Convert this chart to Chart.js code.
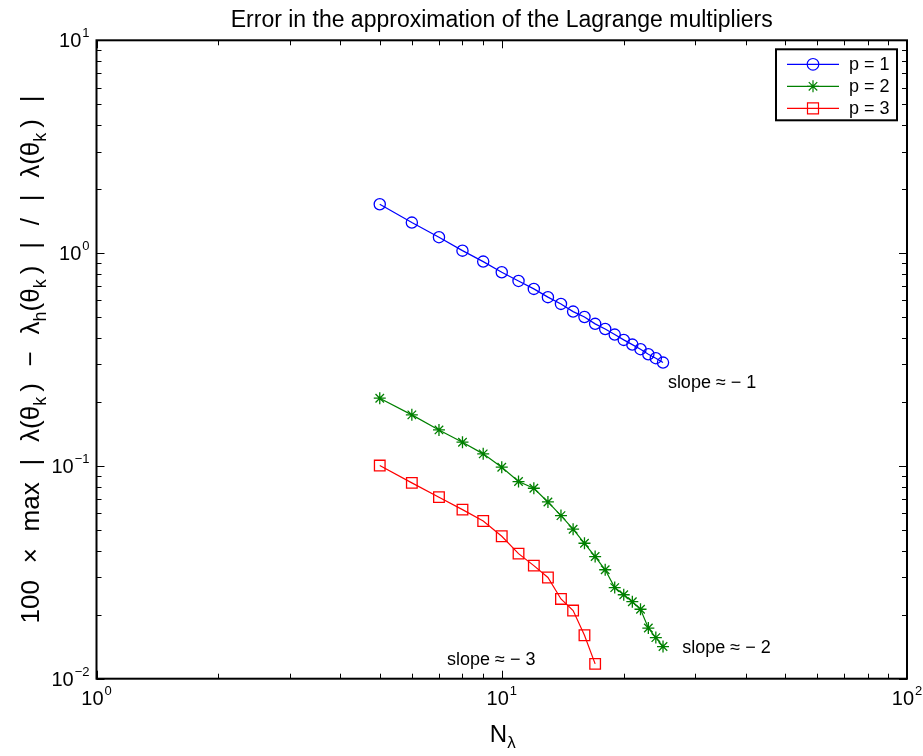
<!DOCTYPE html>
<html>
<head>
<meta charset="utf-8">
<title>Error in the approximation of the Lagrange multipliers</title>
<script src="https://cdn.jsdelivr.net/npm/chart.js@4.4.0/dist/chart.umd.min.js"></script>
<style>
  html, body { margin: 0; padding: 0; background: #fff; }
  #wrap { width: 923px; height: 756px; }
</style>
</head>
<body>
<div id="wrap"><canvas id="errChart" width="923" height="756"></canvas></div>
<script>
// ---- data ----
const nP1   = [5, 6, 7, 8, 9, 10, 11, 12, 13, 14, 15, 16, 17, 18, 19, 20, 21, 22, 23, 24, 25];
const errP1 = [1.697, 1.391, 1.188, 1.027, 0.912, 0.813, 0.740, 0.679, 0.621, 0.577, 0.531,
               0.501, 0.465, 0.440, 0.414, 0.391, 0.3715, 0.3535, 0.3348, 0.3207, 0.3058];

const nP2   = [5, 6, 7, 8, 9, 10, 11, 12, 13, 14, 15, 16, 17, 18, 19, 20, 21, 22, 23, 24, 25];
const errP2 = [0.208, 0.1737, 0.1476, 0.1292, 0.1139, 0.0986, 0.0844, 0.0785, 0.0677, 0.0584, 0.0504,
               0.0433, 0.0375, 0.0325, 0.0268, 0.0248, 0.0230, 0.0212, 0.0173, 0.0156, 0.01416];

const nP3   = [5, 6, 7, 8, 9, 10, 11, 12, 13, 14, 15, 16, 17];
const errP3 = [0.1004, 0.0832, 0.0713, 0.0623, 0.0551, 0.0467, 0.0387, 0.0340, 0.0299, 0.0237,
               0.0209, 0.0160, 0.01174];

const xTicks = [1, 10, 100];
const xTickExp = ['0', '1', '2'];
const yTicks = [0.01, 0.1, 1, 10];
const yTickExp = ['\u22122', '\u22121', '0', '1'];

const legendLabels = ['p = 1', 'p = 2', 'p = 3'];

// slope notes, anchored at data coordinates (left edge, middle)
const slopeNotes = ['slope \u2248 \u2212 1', 'slope \u2248 \u2212 2', 'slope \u2248 \u2212 3'];
const slopeAtN   = [25.7, 27.9, 7.33];
const slopeAtErr = [0.245, 0.01395, 0.01226];

const titleText = 'Error in the approximation of the Lagrange multipliers';

// ---- styles ----
const FONT  = '"Liberation Sans", Arial, Helvetica, sans-serif';
const BLUE  = '#0000ff';
const GREEN = '#008000';
const RED   = '#ff0000';

const pts = (xs, ys) => xs.map((x, i) => ({ x, y: ys[i] }));

// marker for legend rows, same shapes as the plotted points
function marker(ctx, style, x, y, color) {
  ctx.save();
  ctx.strokeStyle = color;
  ctx.lineWidth = 1.2;
  ctx.beginPath();
  if (style === 'circle') {
    ctx.arc(x, y, 5.8, 0, Math.PI * 2);
  } else if (style === 'rect') {
    ctx.rect(x - 5.5, y - 5.5, 11, 11);
  } else {
    for (let k = 0; k < 4; k++) {
      const a = k * Math.PI / 4;
      ctx.moveTo(x - 6 * Math.cos(a), y - 6 * Math.sin(a));
      ctx.lineTo(x + 6 * Math.cos(a), y + 6 * Math.sin(a));
    }
  }
  ctx.stroke();
  ctx.restore();
}

// "10" with a raised exponent
function powLabel(ctx, exp, x, baseY, align) {
  ctx.font = `20px ${FONT}`;
  const wb = ctx.measureText('10').width;
  ctx.font = `13px ${FONT}`;
  const we = ctx.measureText(exp).width;
  const total = wb + 1 + we;
  const left = align === 'center' ? x - total / 2 : x - total;
  ctx.textAlign = 'left';
  ctx.textBaseline = 'alphabetic';
  ctx.font = `20px ${FONT}`;
  ctx.fillText('10', left, baseY);
  ctx.font = `13px ${FONT}`;
  ctx.fillText(exp, left + wb + 1, baseY - 10);
}

// text runs: strings, subscripts and gaps; gaps share the space left over to fill `span`
function runLayout(ctx, parts, size, subSize, span) {
  let w = 0, gaps = 0;
  parts.forEach(p => {
    if (p.gap) { gaps += p.gap; return; }
    ctx.font = `${p.sub ? subSize : size}px ${FONT}`;
    w += ctx.measureText(p.t).width;
  });
  const unit = span ? (span - w) / gaps : size * 0.28;
  return { unit, total: span || w + gaps * unit };
}
function runText(ctx, parts, size, subSize, start, baseY, unit) {
  let x = start;
  parts.forEach(p => {
    if (p.gap) { x += p.gap * unit; return; }
    ctx.font = `${p.sub ? subSize : size}px ${FONT}`;
    ctx.fillText(p.t, x, baseY + (p.sub ? size * 0.25 : 0));
    x += ctx.measureText(p.t).width;
  });
}

const G = { gap: 1 }, g = { gap: 0.3 };
const yLabelParts = [
  { t: '100' }, G, { t: '\u00d7' }, G, { t: 'max' }, G, { t: '|' }, G,
  { t: '\u03bb(\u03b8' }, { t: 'k', sub: true }, g, { t: ')' }, G, { t: '\u2212' }, G,
  { t: '\u03bb' }, { t: 'h', sub: true }, { t: '(\u03b8' }, { t: 'k', sub: true }, g, { t: ')' }, G,
  { t: '|' }, G, { t: '/' }, G, { t: '|' }, G,
  { t: '\u03bb(\u03b8' }, { t: 'k', sub: true }, g, { t: ')' }, G, { t: '|' }
];
const xLabelParts = [{ t: 'N' }, { t: '\u03bb', sub: true }];

const frame = {
  id: 'frame',
  afterDatasetsDraw(chart) {
    const { ctx, chartArea: a, scales: { x, y } } = chart;
    ctx.save();

    // inward ticks on all four sides
    ctx.strokeStyle = '#000';
    ctx.lineWidth = 1;
    ctx.beginPath();
    const xMinor = [], yMinor = [];
    xTicks.slice(0, -1).forEach(b => { for (let m = 2; m <= 9; m++) xMinor.push(m * b); });
    yTicks.slice(0, -1).forEach(b => { for (let m = 2; m <= 9; m++) yMinor.push(m * b); });
    const xt = xTicks.map(v => [v, 8]).concat(xMinor.map(v => [v, 5]));
    const yt = yTicks.map(v => [v, 8]).concat(yMinor.map(v => [v, 5]));
    xt.forEach(([v, len]) => {
      const px = Math.round(x.getPixelForValue(v)) + 0.5;
      ctx.moveTo(px, a.bottom); ctx.lineTo(px, a.bottom - len);
      ctx.moveTo(px, a.top);    ctx.lineTo(px, a.top + len);
    });
    yt.forEach(([v, len]) => {
      const py = Math.round(y.getPixelForValue(v)) + 0.5;
      ctx.moveTo(a.left, py);  ctx.lineTo(a.left + len, py);
      ctx.moveTo(a.right, py); ctx.lineTo(a.right - len, py);
    });
    ctx.stroke();

    // axes box
    ctx.lineWidth = 2;
    ctx.strokeRect(a.left, a.top, a.right - a.left, a.bottom - a.top);

    // tick labels
    ctx.fillStyle = '#000';
    xTicks.forEach((v, i) => powLabel(ctx, xTickExp[i], x.getPixelForValue(v), a.bottom + 26, 'center'));
    yTicks.forEach((v, i) => powLabel(ctx, yTickExp[i], a.left - 7, y.getPixelForValue(v) + 7, 'right'));

    // title
    ctx.font = `23px ${FONT}`;
    ctx.textAlign = 'center';
    ctx.textBaseline = 'alphabetic';
    ctx.fillText(titleText, (a.left + a.right) / 2, 27);

    // x label
    ctx.textAlign = 'left';
    const lx0 = runLayout(ctx, xLabelParts, 24, 17);
    runText(ctx, xLabelParts, 24, 17, (a.left + a.right) / 2 - lx0.total / 2 + 1, 742, lx0.unit);

    // y label, rotated
    ctx.save();
    ctx.translate(39, (a.top + a.bottom) / 2);
    ctx.rotate(-Math.PI / 2);
    const ly0 = runLayout(ctx, yLabelParts, 26, 18, 528);
    runText(ctx, yLabelParts, 26, 18, -ly0.total / 2, 0, ly0.unit);
    ctx.restore();

    // slope notes
    ctx.font = `18px ${FONT}`;
    ctx.textBaseline = 'middle';
    slopeNotes.forEach((s, i) => {
      ctx.fillText(s, x.getPixelForValue(slopeAtN[i]), y.getPixelForValue(slopeAtErr[i]));
    });

    // legend box inside the axes, top right
    const lx = a.right - 131, ly = a.top + 9, lw = 121, lh = 71;
    ctx.fillStyle = '#fff';
    ctx.fillRect(lx, ly, lw, lh);
    ctx.lineWidth = 2;
    ctx.strokeStyle = '#000';
    ctx.strokeRect(lx, ly, lw, lh);
    chart.data.datasets.forEach((ds, i) => {
      const ry = ly + 15 + i * 22;
      ctx.strokeStyle = ds.borderColor;
      ctx.lineWidth = 1.2;
      ctx.beginPath();
      ctx.moveTo(lx + 11, ry); ctx.lineTo(lx + 63, ry);
      ctx.stroke();
      marker(ctx, ds.pointStyle, lx + 37, ry, ds.borderColor);
      ctx.fillStyle = '#000';
      ctx.font = `18px ${FONT}`;
      ctx.textBaseline = 'middle';
      ctx.fillText(ds.label, lx + 73, ry + 1);
    });

    ctx.restore();
  }
};

const ctx = document.getElementById('errChart').getContext('2d');
const errChart = new Chart(ctx, {
  type: 'line',
  data: {
    datasets: [
      {
        label: legendLabels[0], data: pts(nP1, errP1),
        borderColor: BLUE, backgroundColor: 'rgba(0,0,0,0)', borderWidth: 1.2,
        pointStyle: 'circle', pointRadius: 5.6, pointBorderWidth: 1.3,
        pointBorderColor: BLUE, pointBackgroundColor: 'rgba(0,0,0,0)'
      },
      {
        label: legendLabels[1], data: pts(nP2, errP2),
        borderColor: GREEN, backgroundColor: 'rgba(0,0,0,0)', borderWidth: 1.2,
        pointStyle: 'star', pointRadius: 6, pointBorderWidth: 1.3,
        pointBorderColor: GREEN, pointBackgroundColor: 'rgba(0,0,0,0)'
      },
      {
        label: legendLabels[2], data: pts(nP3, errP3),
        borderColor: RED, backgroundColor: 'rgba(0,0,0,0)', borderWidth: 1.2,
        pointStyle: 'rect', pointRadius: 7.5, pointBorderWidth: 1.3,
        pointBorderColor: RED, pointBackgroundColor: 'rgba(0,0,0,0)'
      }
    ]
  },
  options: {
    responsive: false,
    animation: false,
    events: [],
    layout: { padding: { left: 96.5, top: 40.3, right: 16, bottom: 77.3 } },
    plugins: {
      legend: { display: false },
      title: { display: false },
      tooltip: { enabled: false }
    },
    elements: { line: { tension: 0 } },
    scales: {
      x: { type: 'logarithmic', min: 1, max: 100, display: false },
      y: { type: 'logarithmic', min: 0.01, max: 10, display: false }
    }
  },
  plugins: [frame]
});
</script>
</body>
</html>
